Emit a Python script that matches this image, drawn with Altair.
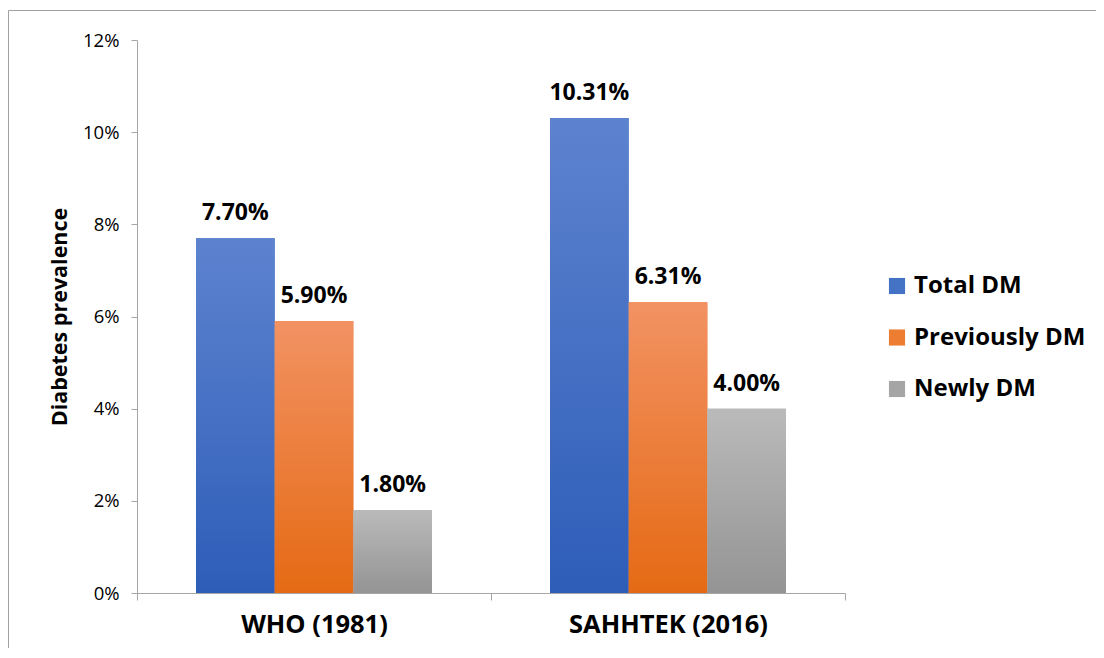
import altair as alt
import pandas as pd

categories = ["WHO (1981)", "SAHHTEK (2016)"]
series = ["Total DM", "Previously DM", "Newly DM"]
who_values = [0.0770, 0.0590, 0.0180]
sahhtek_values = [0.1031, 0.0631, 0.0400]
y_ticks = [0, 0.02, 0.04, 0.06, 0.08, 0.10, 0.12]

solid_colors = ["#4472C4", "#ED7D31", "#A5A5A5"]
gradients = {
    "Total DM": ("#5D83CF", "#2E5DB8"),
    "Previously DM": ("#F29263", "#E56A14"),
    "Newly DM": ("#BABABA", "#949494"),
}

rows = []
for cat, vals in zip(categories, [who_values, sahhtek_values]):
    for s, v in zip(series, vals):
        rows.append({"category": cat, "series": s, "value": v})
df = pd.DataFrame(rows)

FONT = "Open Sans"
AXIS_GRAY = "#a6a6a6"

x_enc = alt.X(
    "category:N",
    sort=categories,
    scale=alt.Scale(domain=categories, paddingInner=0, paddingOuter=0),
    axis=alt.Axis(
        title=None,
        labelAngle=0,
        labelFont=FONT,
        labelFontWeight="bold",
        labelFontSize=25.5,
        labelColor="#000000",
        labelPadding=12,
        labelLimit=400,
        tickBand="extent",
        tickSize=7,
        tickColor=AXIS_GRAY,
        domainColor=AXIS_GRAY,
        grid=False,
    ),
)
xo_enc = alt.XOffset(
    "series:N",
    sort=series,
    scale=alt.Scale(domain=series, paddingInner=0, paddingOuter=0.75),
)
y_enc = alt.Y(
    "value:Q",
    scale=alt.Scale(domain=[0, 0.12], nice=False),
    axis=alt.Axis(
        title="Diabetes prevalence",
        titleFont=FONT,
        titleFontWeight="bold",
        titleFontSize=21.5,
        titleColor="#000000",
        titleX=-77,
        titleBaseline="middle",
        values=y_ticks,
        format=".0%",
        labelFont=FONT,
        labelFontSize=18.5,
        labelColor="#000000",
        labelPadding=12,
        tickSize=6,
        tickColor=AXIS_GRAY,
        domainColor=AXIS_GRAY,
        grid=False,
    ),
)

base = alt.Chart(df)

bars = base.mark_bar().encode(
    x=x_enc,
    xOffset=xo_enc,
    y=y_enc,
    color=alt.Color(
        "series:N",
        sort=series,
        scale=alt.Scale(domain=series, range=solid_colors),
        legend=alt.Legend(
            title=None,
            orient="none",
            legendX=748,
            legendY=234,
            symbolType="square",
            symbolSize=260,
            symbolStrokeWidth=0,
            labelFont=FONT,
            labelFontWeight="bold",
            labelFontSize=24,
            labelColor="#000000",
            labelOffset=5,
            labelLimit=400,
            rowPadding=27.5,
            padding=0,
        ),
    ),
)

overlays = []
for s in series:
    top, bottom = gradients[s]
    overlays.append(
        base.transform_filter(alt.datum.series == s)
        .mark_bar(
            color=alt.Gradient(
                gradient="linear",
                stops=[alt.GradientStop(color=top, offset=0), alt.GradientStop(color=bottom, offset=1)],
                x1=0, x2=0, y1=0, y2=1,
            )
        )
        .encode(x=x_enc, xOffset=xo_enc, y=y_enc)
    )

labels = base.mark_text(
    font=FONT, fontWeight="bold", fontSize=23, color="#000000",
    baseline="alphabetic", dy=-18,
).encode(
    x=x_enc,
    xOffset=xo_enc,
    y=y_enc,
    text=alt.Text("value:Q", format=".2%"),
)

frame = alt.Chart(alt.Data(values=[{"f": 1}])).mark_rect(
    fill=None, stroke="#a0a0a0", strokeWidth=1
).encode(
    x=alt.value(-128.5), x2=alt.value(1000),
    y=alt.value(-29.5), y2=alt.value(700),
)

chart = alt.layer(frame, bars, *overlays, labels).properties(
    width=708,
    height=553,
    autosize=alt.AutoSizeParams(type="none"),
    padding={"left": 129, "top": 32, "right": 251, "bottom": 55},
).configure_view(stroke=None)

chart.save("out.html", embed_options={"renderer": "svg", "actions": False})
